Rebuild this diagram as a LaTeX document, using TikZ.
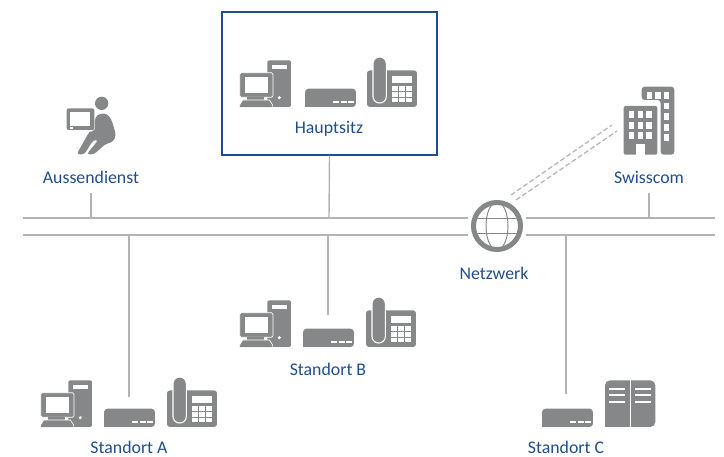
\documentclass[tikz,border=0pt]{standalone}
\usepackage{fontspec}
\setmainfont{Carlito}
\usepackage{xcolor}
\definecolor{Col1}{RGB}{134,135,137}
\definecolor{Col2}{RGB}{31,78,140}
\definecolor{Col3}{RGB}{178,179,181}
\tikzstyle{Label}=[text=Col2,font=\fontsize{17.8}{20}\selectfont,inner sep=0pt]
\tikzstyle{Edge}=[draw=Col3,line width=1.4pt]
\tikzstyle{Link}=[draw=Col3,line width=1.2pt,dash pattern=on 5pt off 2.5pt]
\tikzstyle{Solid}=[fill=Col1,draw=none]
\tikzstyle{Hole}=[fill=white,draw=none]
\tikzset{
  Pc/.pic={\begin{scope}[scale=.3333]
    \fill[Solid,rounded corners=2pt](82,-140)rectangle(153,0);
    \fill[Hole](95,-125)rectangle(140,-115);
    \fill[Hole](118,-28)circle(5);
    \filldraw[Solid,draw=white,line width=.7pt,rounded corners=1.5pt](-1,-103)rectangle(99,-29);
    \fill[Hole](15,-90)rectangle(85,-42);
    \fill[Solid](22,-30)rectangle(72,-18);
    \filldraw[Solid,draw=white,line width=.6pt](8,-21)--(88,-21)--(98,-6)--(98,1)--(-1,1)--(-1,-6)--cycle;
  \end{scope}},
  Router/.pic={\begin{scope}[scale=.3333]
    \fill[Solid,rounded corners=3.5pt](0,0)--(0,-55)--(153,-55)--(153,0)[sharp corners]--cycle;
    \foreach \x in {84,108,129}{\fill[Hole](\x,-18)rectangle(\x+17,-12);}
  \end{scope}},
  Phone/.pic={\begin{scope}[scale=.3333]
    \fill[Solid,rounded corners=3pt](0,-110)rectangle(150,0);
    \filldraw[Solid,draw=white,line width=1.1pt,rounded corners=6.5pt](18,-150)rectangle(58,-12);
    \fill[Hole](74,-93)rectangle(136,-72);
    \foreach \x in {75,97,118}{\foreach \y in {-62,-45,-28}{
      \fill[Hole](\x,\y)rectangle(\x+18,\y+14);}}
  \end{scope}},
  Server/.pic={\begin{scope}[scale=.3333]
    \fill[Solid,rounded corners=5pt](0,0)--(0,-140)--(151,-140)--(151,0)[sharp corners]--cycle;
    \fill[Hole](74,-141)rectangle(77,0);
    \foreach \x in {13,91}{\foreach \y in {-117,-98,-78}{
      \fill[Hole](\x,\y)rectangle(\x+47,\y+5);}}
  \end{scope}}}
\begin{document}
\begin{tikzpicture}[x=1pt,y=-1pt]
    \useasboundingbox(0,0)rectangle(724,457);
    % icons
    \pic at(240,107){Pc};
    \pic at(305,107){Router};
    \pic at(367,107){Phone};
    \pic at(240,347){Pc};
    \pic at(303,347){Router};
    \pic at(366,347){Phone};
    \pic at(41,427){Pc};
    \pic at(104,427){Router};
    \pic at(167,427){Phone};
    \pic at(542,427){Router};
    \pic at(605,427){Server};
    % field worker
    \begin{scope}[shift={(50,85)},scale=.3333]
        \fill[Solid](155,55)circle(20);
        \fill[Solid,rounded corners=2pt](50,70)rectangle(133,135);
        \fill[Hole](60,82)rectangle(120,122);
        \fill[Hole](60,127)rectangle(68,132);
        \fill[Solid,rounded corners=3pt](135,138)--(135,97)--(150,85)--(172,87)--(185,105)--(198,150)
            --(190,170)--(165,178)--(132,208)--(110,208)--(145,165)--(130,165)
            --(103,208)--(80,208)--(115,145)--(122,138)--cycle;
    \end{scope}
    % offices
    \begin{scope}[shift={(450,80)},scale=.3333]
        \fill[Solid,rounded corners=3pt](575,60)--(575,20)--(673,20)--(673,224)--(632,224)--(632,60)--cycle;
        \foreach \x in {590,616,642}{\fill[Hole](\x,37)rectangle(\x+16,57);}
        \foreach \y in {68,100,132,162}{\fill[Hole](642,\y)rectangle(658,\y+20);}
        \fill[Solid,rounded corners=2pt](521,224)--(521,78)--(622,78)--(622,224)--cycle;
        \foreach \x in {537,563,589}{\foreach \y in {93,125,156}{
            \fill[Hole](\x,\y)rectangle(\x+16,\y+22);}}
        \fill[Hole](558,193)rectangle(584,225);
    \end{scope}
    % labels
    \node[draw=Col2,line width=1.5pt,minimum width=215pt,minimum height=143pt,inner sep=0pt](Box)at(329.5,83.5){};
    \node[Label](Hauptsitz)at(329,129){Hauptsitz};
    \node[Label](Aussendienst)at(91,177){Aussendienst};
    \node[Label](Swisscom)at(649,177){Swisscom};
    \node[Label](Netzwerk)at(494,273){Netzwerk};
    \node[Label](StandortA)at(129,447){Standort A};
    \node[Label](StandortB)at(328,369){Standort B};
    \node[Label](StandortC)at(566,447){Standort C};
    % network
    \node[circle,draw=Col1,line width=5pt,minimum size=47pt,inner sep=0pt](Globe)at(497,226){};
    \coordinate(1)at(23,218);
    \coordinate(2)at(468,218);
    \coordinate(3)at(526,218);
    \coordinate(4)at(715,218);
    \coordinate(5)at(23,235);
    \coordinate(6)at(468,235);
    \coordinate(7)at(526,235);
    \coordinate(8)at(715,235);
    \coordinate(9)at(91,218);
    \coordinate(10)at(91,193);
    \coordinate(11)at(329,218);
    \coordinate(12)at(649,218);
    \coordinate(13)at(649,193);
    \coordinate(14)at(129,235);
    \coordinate(15)at(129,397);
    \coordinate(16)at(328,235);
    \coordinate(17)at(328,315);
    \coordinate(18)at(566,235);
    \coordinate(19)at(566,394);
    \coordinate(20)at(511,195);
    \coordinate(21)at(612,125);
    \coordinate(22)at(516,200);
    \coordinate(23)at(617,131);
    \coordinate(24)at(474,219);
    \coordinate(25)at(520,219);
    \coordinate(26)at(474,234);
    \coordinate(27)at(520,234);
    \draw[Edge](1)--(2);
    \draw[Edge](3)--(4);
    \draw[Edge](5)--(6);
    \draw[Edge](7)--(8);
    \draw[Edge](9)--(10);
    \draw[Edge](Box.south)--(11);
    \draw[Edge](12)--(13);
    \draw[Edge](14)--(15);
    \draw[Edge](16)--(17);
    \draw[Edge](18)--(19);
    \draw[Link](20)--(21);
    \draw[Link](22)--(23);
    \draw[Edge,line width=1pt,draw=Col1](24)--(25);
    \draw[Edge,line width=1pt,draw=Col1](26)--(27);
    \draw[Edge,line width=1pt,draw=Col1](Globe.center)ellipse(11 and 24);
\end{tikzpicture}
\end{document}
